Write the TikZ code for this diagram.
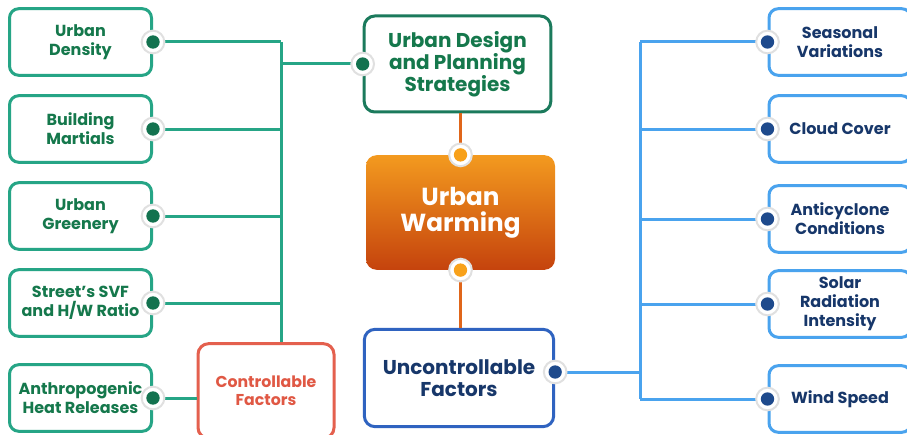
\documentclass[tikz,border=0pt]{standalone}
\usepackage{fontspec}
\setmainfont{Poppins}
\definecolor{gbord}{HTML}{26A586}
\definecolor{gtext}{HTML}{15784C}
\definecolor{gdark}{HTML}{1B7A5C}
\definecolor{gdot}{HTML}{13724F}
\definecolor{rbord}{HTML}{E4604E}
\definecolor{rtext}{HTML}{E05844}
\definecolor{oline}{HTML}{E0661A}
\definecolor{odot}{HTML}{F8A11A}
\definecolor{otop}{HTML}{F39A1F}
\definecolor{obot}{HTML}{C5430D}
\definecolor{bbord}{HTML}{4AA3EE}
\definecolor{bdark}{HTML}{2F63C0}
\definecolor{btext}{HTML}{17376A}
\definecolor{bdot}{HTML}{1E4A8C}
\tikzset{
	leaf/.style={line width=2.25pt, rounded corners=7pt, fill=white, minimum width=106.5pt, minimum height=50pt, inner sep=0pt, align=center, font=\fontsize{12}{14.3}\selectfont\bfseries},
	leafg/.style={leaf, draw=gbord, text=gtext},
	leafb/.style={leaf, draw=bbord, text=btext},
	hub/.style={line width=2.25pt, rounded corners=8pt, fill=white, inner sep=0pt, align=center},
	gline/.style={gbord, line width=2.25pt},
	bline/.style={bbord, line width=2.25pt},
	oconn/.style={oline, line width=2.25pt},
	knob/.style={circle, inner sep=0pt, minimum size=17pt, fill=white, draw=black!12, line width=1.5pt},
	pip/.style={circle, inner sep=0pt, minimum size=10pt}
}
\begin{document}
\begin{tikzpicture}[x=0.75pt,y=0.75pt,yscale=-1,xscale=1]
		\useasboundingbox (0,0) rectangle (907,435);
		\clip (0,0) rectangle (907,435);

		% Left boxes
		\node[leafg] (dens) at (80.5,42) {Urban\\Density};
		\node[leafg] (mart) at (80.5,129) {Building\\Martials};
		\node[leafg] (gree) at (80.5,216) {Urban\\Greenery};
		\node[leafg] (svf) at (80.5,303) {Street's SVF\\and H/W Ratio};
		\node[leafg] (anth) at (80.5,398) {Anthropogenic\\Heat Releases};

		% Right boxes
		\node[leafb] (seas) at (840,42) {Seasonal\\Variations};
		\node[leafb] (clou) at (840,129) {Cloud Cover};
		\node[leafb] (anti) at (840,219) {Anticyclone\\Conditions};
		\node[leafb] (sola) at (840,304) {Solar\\Radiation\\Intensity};
		\node[leafb] (wind) at (840,399) {Wind Speed};

		% Centre column
		\node[hub, draw=gdark, text=gtext, minimum width=140pt, minimum height=72pt, font=\fontsize{15}{16.5}\selectfont\bfseries] (desi) at (457.5,64) {Urban Design\\and Planning\\Strategies};
		\node[rounded corners=8pt, top color=otop, bottom color=obot, text=white, minimum width=141.75pt, minimum height=86pt, inner sep=0pt, align=center, font=\fontsize{18.5}{19.5}\selectfont\bfseries] (warm) at (460.5,212.5) {Urban\\Warming};
		\node[hub, draw=bdark, text=btext, minimum width=142pt, minimum height=73pt, font=\fontsize{15}{16.5}\selectfont\bfseries] (unco) at (459,378) {Uncontrollable\\Factors};
		\node[hub, draw=rbord, text=rtext, minimum width=102pt, minimum height=71pt, font=\fontsize{11.8}{13.5}\selectfont\bfseries] (ctrl) at (266,391) {Controllable\\Factors};

		\coordinate (lbus) at (281,0);
		\coordinate (rbus) at (640,0);
		\coordinate (udot) at ([yshift=-4.5pt]unco.east);

		% Green branches
		\draw[gline] (dens.east -| lbus) -- (lbus |- ctrl.north);
		\draw[gline] (dens.east) -- (dens.east -| lbus);
		\draw[gline] (mart.east) -- (mart.east -| lbus);
		\draw[gline] (gree.east) -- (gree.east -| lbus);
		\draw[gline] (svf.east) -- (svf.east -| lbus);
		\draw[gline] (desi.west) -- (desi.west -| lbus);
		\draw[gline] (anth.east) -- (anth.east -| ctrl.west);

		% Orange links
		\draw[oconn] (warm.north |- desi.south) -- (warm.north);
		\draw[oconn] (warm.south) -- (warm.south |- unco.north);

		% Blue branches
		\draw[bline] (seas.west -| rbus) -- (wind.west -| rbus);
		\draw[bline] (udot) -- (udot -| rbus);
		\draw[bline] (seas.west) -- (seas.west -| rbus);
		\draw[bline] (clou.west) -- (clou.west -| rbus);
		\draw[bline] (anti.west) -- (anti.west -| rbus);
		\draw[bline] (sola.west) -- (sola.west -| rbus);
		\draw[bline] (wind.west) -- (wind.west -| rbus);

		% Knobs
		\foreach \p/\c in {dens.east/gdot, mart.east/gdot, gree.east/gdot, svf.east/gdot, anth.east/gdot, desi.west/gdot,
				seas.west/bdot, clou.west/bdot, anti.west/bdot, sola.west/bdot, wind.west/bdot, udot/bdot,
				warm.north/odot, warm.south/odot}
			\node[knob] at (\p) {} node[pip, fill=\c] at (\p) {};

	\end{tikzpicture}
\end{document}
